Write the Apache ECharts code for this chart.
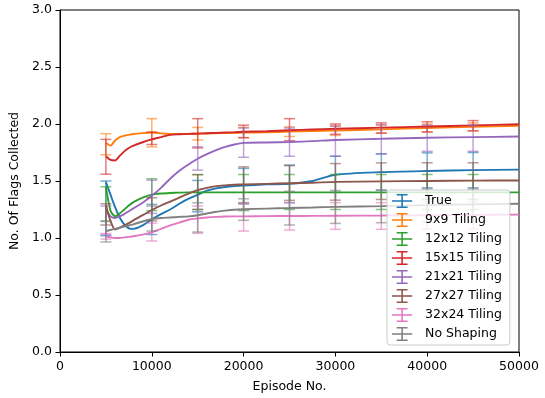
<!DOCTYPE html>
<html>
<head>
<meta charset="utf-8">
<script src="https://cdn.jsdelivr.net/npm/echarts@6/dist/echarts.min.js"></script>
<style>
html,body{margin:0;padding:0;background:#fff;}
#chart{width:545px;height:398px;}
</style>
</head>
<body>
<div id="chart"></div>
<script>
// ---- data ----
var seriesNames = ['True', '9x9 Tiling', '12x12 Tiling', '15x15 Tiling', '21x21 Tiling', '27x27 Tiling', '32x24 Tiling', 'No Shaping'];
var episodes = [5000, 5500, 6000, 6500, 7000, 7500, 8000, 9000, 10000, 11000, 12000, 13000, 14000, 15000, 16000, 17000, 18000, 19000, 20000, 22500, 25000, 27500, 30000, 35000, 40000, 45000, 50000];

var trueVals   = [1.49, 1.38, 1.27, 1.18, 1.12, 1.085, 1.08, 1.11, 1.165, 1.21, 1.25, 1.30, 1.345, 1.38, 1.415, 1.435, 1.447, 1.455, 1.46, 1.47, 1.475, 1.50, 1.555, 1.578, 1.588, 1.595, 1.60];
var tile9Vals  = [1.835, 1.81, 1.855, 1.885, 1.897, 1.905, 1.912, 1.92, 1.925, 1.918, 1.912, 1.912, 1.913, 1.915, 1.917, 1.919, 1.921, 1.922, 1.924, 1.928, 1.933, 1.938, 1.943, 1.953, 1.965, 1.975, 1.985];
var tile12Vals = [1.45, 1.24, 1.19, 1.215, 1.25, 1.285, 1.315, 1.355, 1.38, 1.39, 1.395, 1.398, 1.40, 1.40, 1.40, 1.40, 1.40, 1.40, 1.40, 1.40, 1.40, 1.40, 1.40, 1.40, 1.40, 1.40, 1.40];
var tile15Vals = [1.717, 1.685, 1.68, 1.72, 1.76, 1.79, 1.81, 1.84, 1.865, 1.885, 1.905, 1.91, 1.913, 1.916, 1.919, 1.922, 1.925, 1.928, 1.932, 1.937, 1.945, 1.952, 1.958, 1.968, 1.978, 1.988, 1.998];
var tile21Vals = [1.25, 1.19, 1.175, 1.19, 1.21, 1.235, 1.26, 1.31, 1.37, 1.44, 1.52, 1.59, 1.645, 1.695, 1.735, 1.77, 1.80, 1.82, 1.834, 1.838, 1.842, 1.85, 1.86, 1.87, 1.88, 1.885, 1.89];
var tile27Vals = [1.29, 1.15, 1.075, 1.09, 1.11, 1.13, 1.155, 1.20, 1.245, 1.285, 1.32, 1.355, 1.39, 1.42, 1.44, 1.455, 1.462, 1.467, 1.47, 1.475, 1.48, 1.485, 1.492, 1.497, 1.50, 1.503, 1.505];
var tile32Vals = [1.015, 1.005, 1.0, 1.0, 1.005, 1.01, 1.015, 1.03, 1.05, 1.08, 1.11, 1.135, 1.16, 1.172, 1.18, 1.185, 1.188, 1.19, 1.19, 1.192, 1.193, 1.194, 1.195, 1.197, 1.20, 1.202, 1.205];
var noShapeVals= [1.06, 1.07, 1.08, 1.09, 1.10, 1.11, 1.12, 1.145, 1.165, 1.175, 1.18, 1.185, 1.19, 1.20, 1.215, 1.23, 1.24, 1.248, 1.252, 1.258, 1.263, 1.268, 1.273, 1.28, 1.288, 1.295, 1.30];

// error bars: positions, lower and upper ends
var errEpisodes = [5000, 10000, 15000, 20000, 25000, 30000, 35000, 40000, 45000];
var trueLow    = [1.02, 1.03, 1.23, 1.30, 1.31, 1.40, 1.42, 1.44, 1.44];
var trueHigh   = [1.50, 1.295, 1.505, 1.61, 1.64, 1.717, 1.738, 1.747, 1.75];
var tile9Low   = [1.73, 1.80, 1.86, 1.88, 1.89, 1.90, 1.92, 1.93, 1.94];
var tile9High  = [1.915, 2.047, 1.97, 1.97, 1.975, 1.985, 1.99, 2.0, 2.01];
var tile12Low  = [1.15, 1.24, 1.25, 1.24, 1.25, 1.25, 1.25, 1.25, 1.25];
var tile12High = [1.45, 1.52, 1.555, 1.557, 1.557, 1.557, 1.557, 1.557, 1.557];
var tile15Low  = [1.56, 1.82, 1.79, 1.88, 1.854, 1.91, 1.92, 1.93, 1.94];
var tile15High = [1.865, 1.93, 2.047, 1.99, 2.047, 2.0, 2.01, 2.02, 2.03];
var tile21Low  = [1.03, 1.216, 1.595, 1.708, 1.717, 1.717, 1.738, 1.76, 1.76];
var tile21High = [1.28, 1.507, 1.80, 1.965, 1.965, 1.98, 1.994, 1.99, 1.99];
var tile27Low  = [1.114, 1.15, 1.25, 1.31, 1.33, 1.332, 1.338, 1.34, 1.34];
var tile27High = [1.30, 1.353, 1.557, 1.624, 1.635, 1.653, 1.659, 1.66, 1.66];
var tile32Low  = [0.99, 0.974, 1.041, 1.061, 1.07, 1.076, 1.076, 1.08, 1.08];
var tile32High = [1.04, 1.13, 1.28, 1.30, 1.31, 1.31, 1.31, 1.32, 1.32];
var noShapeLow = [0.965, 1.061, 1.052, 1.155, 1.114, 1.128, 1.134, 1.14, 1.14];
var noShapeHigh= [1.145, 1.28, 1.309, 1.344, 1.41, 1.417, 1.42, 1.43, 1.43];

var xTicks = [0, 10000, 20000, 30000, 40000, 50000];
var yTicks = [0.0, 0.5, 1.0, 1.5, 2.0, 2.5, 3.0];

// ---- build ----
var colors = ['#1f77b4', '#ff7f0e', '#2ca02c', '#d62728', '#9467bd', '#8c564b', '#e377c2', '#7f7f7f'];
var lineVals = [trueVals, tile9Vals, tile12Vals, tile15Vals, tile21Vals, tile27Vals, tile32Vals, noShapeVals];
var lows = [trueLow, tile9Low, tile12Low, tile15Low, tile21Low, tile27Low, tile32Low, noShapeLow];
var highs = [trueHigh, tile9High, tile12High, tile15High, tile21High, tile27High, tile32High, noShapeHigh];

var FONT = 'DejaVu Sans';
var errIcon = 'path://M0,8h26v2h-26z M12,0h2v18h-2z M6,0h14v2h-14z M6,16h14v2h-14z';

var series = [];
seriesNames.forEach(function (name, i) {
  series.push({
    name: name,
    type: 'line',
    data: episodes.map(function (x, k) { return [x, lineVals[i][k]]; }),
    showSymbol: false,
    smooth: 0.25,
    lineStyle: { color: colors[i], width: 1.9 },
    itemStyle: { color: colors[i] },
    z: 2 + i * 0.01,
    silent: true
  });
  series.push({
    name: name,
    type: 'custom',
    data: errEpisodes.map(function (x, k) { return [x, lows[i][k], highs[i][k]]; }),
    itemStyle: { color: colors[i] },
    z: 2 + i * 0.01 + 0.005,
    silent: true,
    renderItem: (function (col) {
      return function (params, api) {
        var x = api.value(0);
        var p1 = api.coord([x, api.value(1)]);
        var p2 = api.coord([x, api.value(2)]);
        var cap = 5.5;
        var st = { stroke: col, lineWidth: 1.5, opacity: 0.6 };
        return {
          type: 'group',
          children: [
            { type: 'line', shape: { x1: p1[0], y1: p1[1], x2: p2[0], y2: p2[1] }, style: st },
            { type: 'line', shape: { x1: p1[0] - cap, y1: p1[1], x2: p1[0] + cap, y2: p1[1] }, style: st },
            { type: 'line', shape: { x1: p2[0] - cap, y1: p2[1], x2: p2[0] + cap, y2: p2[1] }, style: st }
          ]
        };
      };
    })(colors[i])
  });
});

var chart = echarts.init(document.getElementById('chart'), null, { renderer: 'canvas' });
chart.setOption({
  animation: false,
  backgroundColor: '#fff',
  textStyle: { fontFamily: FONT },
  grid: { left: 60, right: 26, top: 10, bottom: 45, show: true, borderColor: '#000', borderWidth: 1, backgroundColor: 'transparent' },
  xAxis: {
    type: 'value', min: xTicks[0], max: xTicks[xTicks.length - 1], interval: xTicks[1] - xTicks[0],
    name: 'Episode No.', nameLocation: 'middle', nameGap: 28,
    nameTextStyle: { fontFamily: FONT, fontSize: 12.5, color: '#000' },
    axisLine: { show: true, lineStyle: { color: '#000', width: 1 } },
    axisTick: { show: true, length: 4.5, lineStyle: { color: '#000' } },
    axisLabel: { fontFamily: FONT, fontSize: 12.5, color: '#000', margin: 8, formatter: function (v) { return String(v); } },
    splitLine: { show: false }
  },
  yAxis: {
    type: 'value', min: yTicks[0], max: yTicks[yTicks.length - 1], interval: yTicks[1] - yTicks[0],
    name: 'No. Of Flags Collected', nameLocation: 'middle', nameGap: 38,
    nameTextStyle: { fontFamily: FONT, fontSize: 12.5, color: '#000' },
    axisLine: { show: true, lineStyle: { color: '#000', width: 1 } },
    axisTick: { show: true, length: 4.5, lineStyle: { color: '#000' } },
    axisLabel: { fontFamily: FONT, fontSize: 12.5, color: '#000', margin: 8, formatter: function (v) { return v.toFixed(1); } },
    splitLine: { show: false }
  },
  legend: {
    orient: 'vertical',
    left: 387, top: 190,
    padding: [4, 8, 4, 5],
    itemGap: 5,
    itemWidth: 26, itemHeight: 14,
    backgroundColor: 'rgba(255,255,255,0.8)',
    borderColor: '#cccccc', borderWidth: 1, borderRadius: 3,
    textStyle: { fontFamily: FONT, fontSize: 12.5, color: '#000', padding: [0, 0, 0, 5] },
    data: seriesNames.map(function (n) { return { name: n, icon: errIcon }; }),
    selectedMode: false
  },
  series: series
});
</script>
</body>
</html>
